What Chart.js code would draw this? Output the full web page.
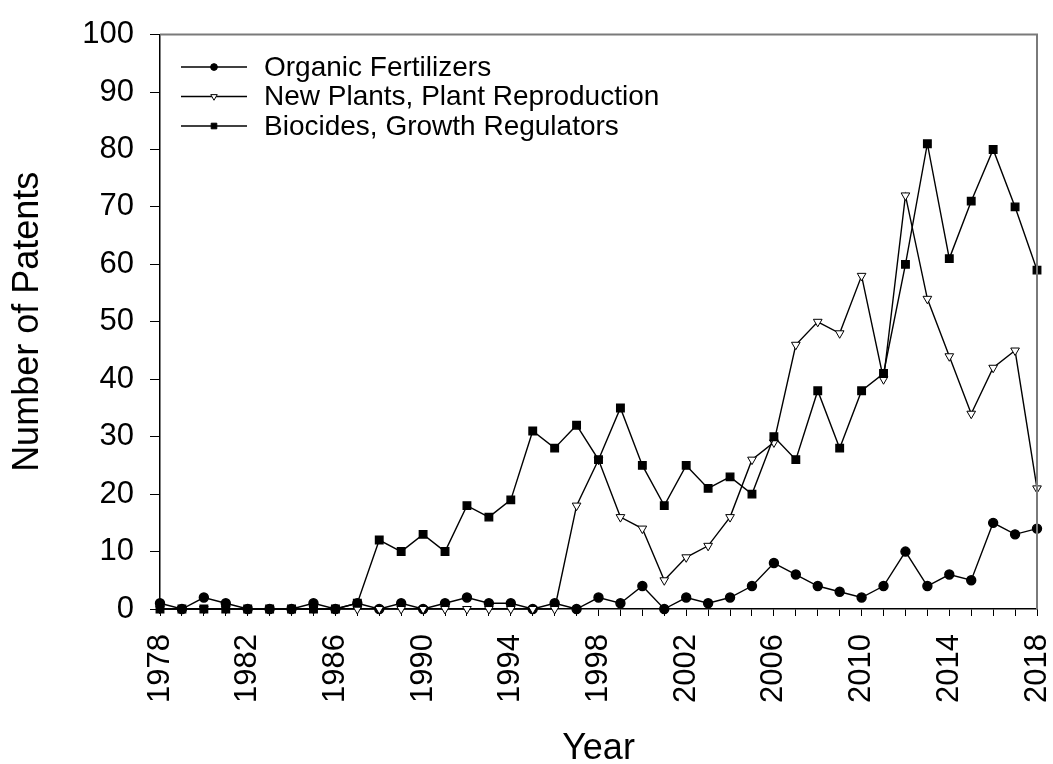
<!DOCTYPE html>
<html>
<head>
<meta charset="utf-8">
<script src="https://cdn.jsdelivr.net/npm/chart.js@4.4.0/dist/chart.umd.min.js"></script>
<style>
  html, body { margin: 0; padding: 0; background: #fff; }
  #wrap { width: 1053px; height: 764px; }
</style>
</head>
<body>
<div id="wrap"><canvas id="patentChart" width="1053" height="764"></canvas></div>
<script>
// years on the x axis
const years = [
  1978, 1979, 1980, 1981, 1982, 1983, 1984, 1985, 1986, 1987,
  1988, 1989, 1990, 1991, 1992, 1993, 1994, 1995, 1996, 1997,
  1998, 1999, 2000, 2001, 2002, 2003, 2004, 2005, 2006, 2007,
  2008, 2009, 2010, 2011, 2012, 2013, 2014, 2015, 2016, 2017,
  2018
];

// number of patents per year
const organicFertilizers = [
  1, 0, 2, 1, 0, 0, 0, 1, 0, 1,
  0, 1, 0, 1, 2, 1, 1, 0, 1, 0,
  2, 1, 4, 0, 2, 1, 2, 4, 8, 6,
  4, 3, 2, 4, 10, 4, 6, 5, 15, 13,
  14
];
const newPlants = [
  0, 0, 0, 0, 0, 0, 0, 0, 0, 0,
  0, 0, 0, 0, 0, 0, 0, 0, 0, 18,
  26, 16, 14, 5, 9, 11, 16, 26, 29, 46,
  50, 48, 58, 40, 72, 54, 44, 34, 42, 45,
  21
];
const biocides = [
  0, 0, 0, 0, 0, 0, 0, 0, 0, 1,
  12, 10, 13, 10, 18, 16, 19, 31, 28, 32,
  26, 35, 25, 18, 25, 21, 23, 20, 30, 26,
  38, 28, 38, 41, 60, 81, 61, 71, 80, 70,
  59
];

const seriesNames = ['Organic Fertilizers', 'New Plants, Plant Reproduction', 'Biocides, Growth Regulators'];
const labeledYearStep = 4;

const FONT = "'Liberation Sans', Arial, Helvetica, sans-serif";

// right + top border of the frame (grey, like the original)
const frameLines = {
  id: 'frameLines',
  afterDraw(chart) {
    const { ctx, chartArea } = chart;
    ctx.save();
    ctx.strokeStyle = '#7a7a7a';
    ctx.lineWidth = 2;
    ctx.beginPath();
    ctx.moveTo(chartArea.left, chartArea.top);
    ctx.lineTo(chartArea.right, chartArea.top);
    ctx.lineTo(chartArea.right, chartArea.bottom);
    ctx.stroke();
    ctx.restore();
  }
};

// legend inside the plot, line with marker in the middle
const insideLegend = {
  id: 'insideLegend',
  afterDraw(chart) {
    const ctx = chart.ctx;
    ctx.save();
    chart.data.datasets.forEach((ds, i) => {
      const y = 67 + i * 29.5;
      ctx.strokeStyle = '#000';
      ctx.lineWidth = 1.3;
      ctx.beginPath();
      ctx.moveTo(181, y);
      ctx.lineTo(247, y);
      ctx.stroke();
      ctx.fillStyle = ds.pointBackgroundColor;
      ctx.strokeStyle = ds.pointBorderColor;
      ctx.lineWidth = 1;
      Chart.helpers.drawPoint(ctx, {
        pointStyle: ds.pointStyle,
        radius: ds.pointRadius * 0.75,
        rotation: ds.pointRotation || 0,
        borderWidth: 1
      }, 214, y);
      ctx.fillStyle = '#000';
      ctx.font = '28px ' + FONT;
      ctx.textAlign = 'left';
      ctx.textBaseline = 'middle';
      ctx.fillText(ds.label, 264, y + 1);
    });
    ctx.restore();
  }
};

new Chart(document.getElementById('patentChart'), {
  type: 'line',
  data: {
    labels: years,
    datasets: [
      {
        label: seriesNames[0],
        data: organicFertilizers,
        borderColor: '#000',
        borderWidth: 1.4,
        pointStyle: 'circle',
        pointRadius: 4.5,
        pointBackgroundColor: '#000',
        pointBorderColor: '#000',
        clip: false,
        order: 2
      },
      {
        label: seriesNames[1],
        data: newPlants,
        borderColor: '#000',
        borderWidth: 1.4,
        pointStyle: 'triangle',
        pointRotation: 180,
        pointRadius: 5,
        pointBackgroundColor: '#fff',
        pointBorderColor: '#000',
        pointBorderWidth: 1,
        clip: false,
        order: 1
      },
      {
        label: seriesNames[2],
        data: biocides,
        borderColor: '#000',
        borderWidth: 1.4,
        pointStyle: 'rect',
        pointRadius: 5.3,
        pointBackgroundColor: '#000',
        pointBorderColor: '#000',
        clip: false,
        order: 0
      }
    ]
  },
  options: {
    responsive: false,
    animation: false,
    devicePixelRatio: 1,
    layout: { padding: { top: 32, right: 16, left: 0, bottom: 0 } },
    plugins: {
      legend: { display: false },
      tooltip: { enabled: false }
    },
    scales: {
      x: {
        type: 'category',
        offset: false,
        grid: { drawOnChartArea: false, drawTicks: true, tickLength: 7, color: '#000', lineWidth: 1 },
        border: { display: true, color: '#000', width: 1.5 },
        ticks: {
          autoSkip: false,
          minRotation: 90,
          maxRotation: 90,
          padding: 18,
          color: '#000',
          font: { family: FONT, size: 31, lineHeight: 1 },
          callback(value, index) {
            const yr = years[index];
            return (yr - years[0]) % labeledYearStep === 0 ? String(yr) : '';
          }
        },
        title: {
          display: true,
          text: 'Year',
          color: '#000',
          font: { family: FONT, size: 36, lineHeight: 1 },
          padding: { top: 0, bottom: -3 }
        },
        afterFit(scale) {
          scale.height = 155;
          scale.paddingLeft = 0;
          scale.paddingRight = 0;
        }
      },
      y: {
        min: 0,
        max: 100,
        grid: { drawOnChartArea: false, drawTicks: true, tickLength: 10, color: '#000', lineWidth: 1 },
        border: { display: true, color: '#000', width: 1.5 },
        ticks: {
          stepSize: 10,
          padding: 16,
          color: '#000',
          font: { family: FONT, size: 31 }
        },
        title: {
          display: true,
          text: 'Number of Patents',
          color: '#000',
          font: { family: FONT, size: 36, lineHeight: 1 },
          padding: { top: 10, bottom: 0 }
        },
        afterFit(scale) { scale.width = 160; }
      }
    }
  },
  plugins: [frameLines, insideLegend]
});
</script>
</body>
</html>
